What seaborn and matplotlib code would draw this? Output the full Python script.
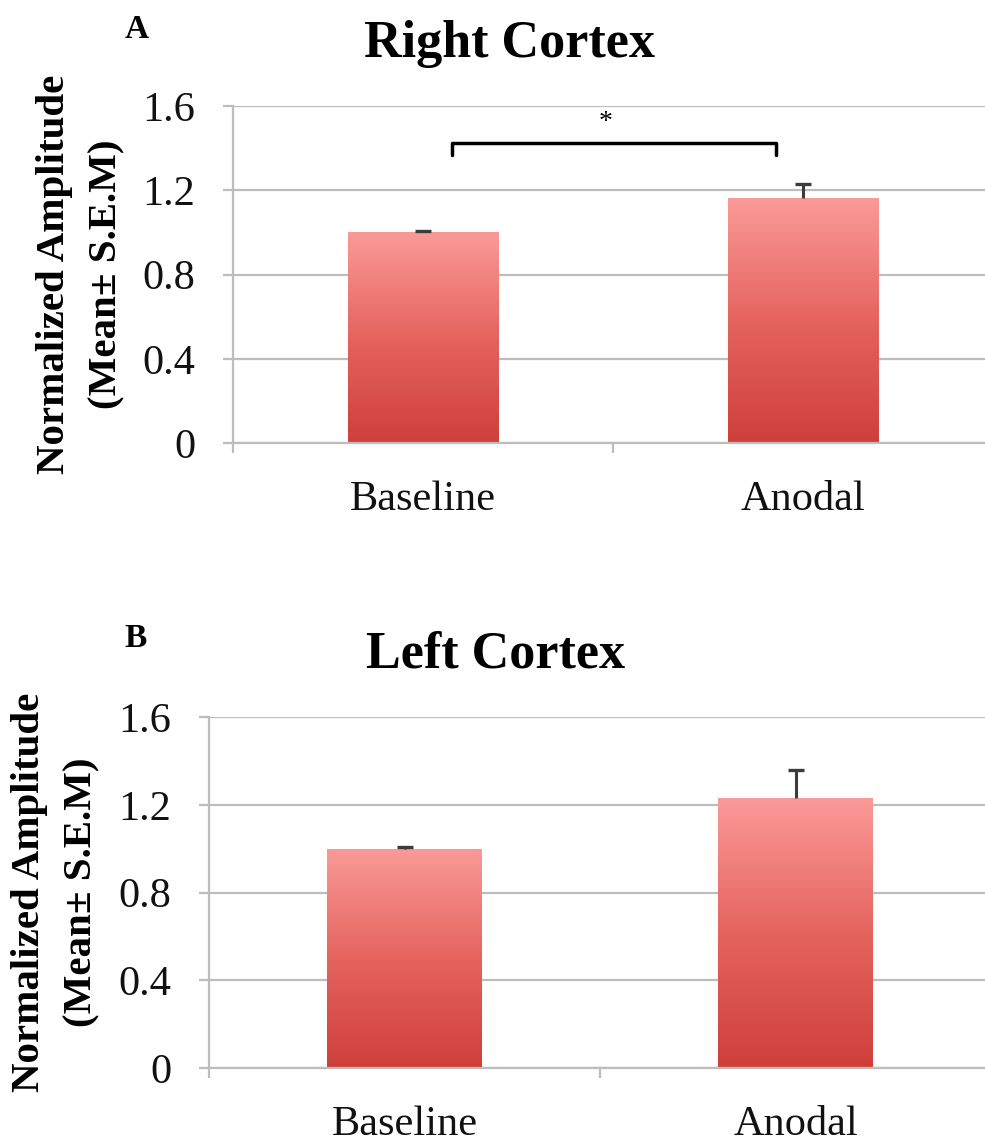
import numpy as np
import pandas as pd
import matplotlib
matplotlib.use("Agg")
import matplotlib.pyplot as plt
import seaborn as sns
from matplotlib.colors import LinearSegmentedColormap

# Normalized amplitude (mean and S.E.M) per condition
conditions = ["Baseline", "Anodal"]
right_mean = [1.00, 1.162]
right_sem = [0.005, 0.068]
left_mean = [1.00, 1.232]
left_sem = [0.008, 0.126]

y_ticks = [0, 0.4, 0.8, 1.2, 1.6]
y_tick_labels = ["0", "0.4", "0.8", "1.2", "1.6"]

ylabel_text = "Normalized Amplitude\n(Mean\u00b1 S.E.M)"

sns.set_theme(style="white")
plt.rcParams["font.family"] = ["Liberation Serif", "DejaVu Serif"]
plt.rcParams["text.color"] = "black"
plt.rcParams["axes.labelcolor"] = "black"

W, H = 985, 1144
fig = plt.figure(figsize=(W / 100, H / 100), dpi=100)

GRID = "#BDBDBD"
bar_cmap = LinearSegmentedColormap.from_list(
    "bar_fill", ["#CF3F3A", "#E5645E", "#FA9A98"])


def px_axes(left, right, top, bottom):
    return fig.add_axes([left / W, 1 - bottom / H, (right - left) / W, (bottom - top) / H])


def draw_panel(ax, means, sems, label_x):
    df = pd.DataFrame({"condition": conditions, "value": means})
    sns.barplot(data=df, x="condition", y="value", ax=ax, width=0.395,
                color="#E5645E", errorbar=None, linewidth=0, zorder=2)

    # vertical red gradient inside every bar
    grad = np.linspace(0, 1, 256).reshape(-1, 1)
    for patch in ax.patches:
        x0, y0 = patch.get_x(), patch.get_y()
        w, h = patch.get_width(), patch.get_height()
        im = ax.imshow(grad, extent=[x0, x0 + w, y0, y0 + h], origin="lower",
                       cmap=bar_cmap, aspect="auto", zorder=2.5,
                       interpolation="bilinear")
        im.set_clip_path(patch)

    # upward-only S.E.M whiskers
    xs = np.arange(len(means))
    _, caps, _ = ax.errorbar(xs, means, yerr=[np.zeros(len(sems)), sems],
                             fmt="none", ecolor="#3C3C3C", elinewidth=2.2,
                             capsize=5.5, capthick=2.4, zorder=4)
    caps[0].set_visible(False)  # no cap at the bar top

    ax.set_xlim(-0.5, len(means) - 0.5)
    ax.set_ylim(0, 1.6)
    ax.set_yticks(y_ticks)
    ax.set_yticklabels(y_tick_labels)
    ax.yaxis.grid(True, color=GRID, linewidth=1.6)
    ax.xaxis.grid(False)
    ax.set_axisbelow(True)

    for side in ("top", "right"):
        ax.spines[side].set_visible(False)
    for side in ("left", "bottom"):
        ax.spines[side].set_color(GRID)
        ax.spines[side].set_linewidth(1.6)

    ax.tick_params(axis="y", which="major", length=7.2, width=1.6, color=GRID,
                   direction="out", left=True, pad=20, labelsize=30.5,
                   labelcolor="#111111")
    ax.tick_params(axis="x", which="major", length=0, pad=27, labelsize=30.5,
                   labelcolor="#111111")
    ax.set_xticks(np.arange(-0.5, len(means), 1.0), minor=True)
    ax.tick_params(axis="x", which="minor", length=7.2, width=1.6, color=GRID,
                   direction="out", bottom=True)

    ax.set_xlabel("")
    ax.set_ylabel(ylabel_text, fontsize=29.5, fontweight="bold",
                  multialignment="center", linespacing=1.55, color="black")
    ax.yaxis.label.set_va("center")
    ax.yaxis.set_label_coords(label_x, 0.5)


# Panel A: right cortex
axA = px_axes(233, 993, 106, 443)
draw_panel(axA, right_mean, right_sem, label_x=(81 - 233) / 760)
# significance bracket between the two conditions
axA.plot([0.076, 0.076, 0.929, 0.929], [1.368, 1.425, 1.425, 1.368],
         color="black", linewidth=2.5, solid_joinstyle="round",
         solid_capstyle="round", zorder=5)
axA.text(0.48, 1.52, "*", ha="center", va="center", fontsize=20, color="black")

# Panel B: left cortex
axB = px_axes(209, 991, 717, 1068)
draw_panel(axB, left_mean, left_sem, label_x=(56 - 209) / 782)

# titles and panel letters
fig.text(509 / W, 1 - 57 / H, "Right Cortex", ha="center", va="baseline",
         fontsize=37.5, fontweight="bold", color="black")
fig.text(496 / W, 1 - 668 / H, "Left Cortex", ha="center", va="baseline",
         fontsize=37.5, fontweight="bold", color="black")
fig.text(137 / W, 1 - 38 / H, "A", ha="center", va="baseline",
         fontsize=24, fontweight="bold", color="black")
fig.text(136 / W, 1 - 647 / H, "B", ha="center", va="baseline",
         fontsize=24, fontweight="bold", color="black")

fig.savefig("out.png", dpi=100, facecolor="white")
